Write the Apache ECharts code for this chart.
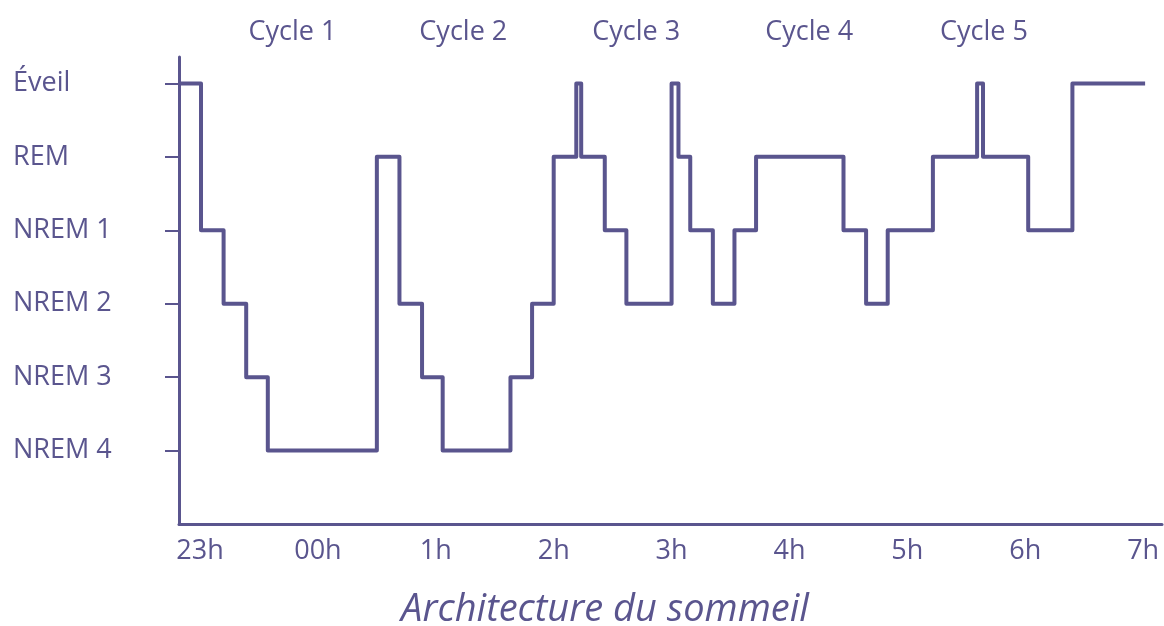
<!DOCTYPE html>
<html>
<head>
<meta charset="utf-8">
<script src="https://cdn.jsdelivr.net/npm/echarts@6.0.0/dist/echarts.min.js"></script>
<style>
html, body { margin: 0; padding: 0; background: #fff; }
#main { width: 1164px; height: 626px; }
</style>
</head>
<body>
<div id="main"></div>
<script>
// stades du sommeil, du plus profond (0) à l'éveil (5)
var stages = ['NREM 4', 'NREM 3', 'NREM 2', 'NREM 1', 'REM', 'Éveil'];

// début de chaque palier, en minutes après 23h00 (dernier point = fin)
var times = [-10.7, 0.5, 12, 23.5, 34.5, 90, 101.5, 113, 123.5, 158, 169, 180, 191.5, 194,
             206, 217, 240, 243.5, 249.5, 261, 272, 283, 327.5, 339, 350, 373, 395.5,
             398.5, 421.5, 444, 481];
var levels = [5, 3, 2, 1, 0, 4, 2, 1, 0, 1, 2, 4, 5, 4, 3, 2, 5, 4, 3, 2, 3, 4, 3, 2, 3,
              4, 5, 4, 3, 5, 5];

var hourTicks = [0, 60, 120, 180, 240, 300, 360, 420, 480];
var hourLabels = ['23h', '00h', '1h', '2h', '3h', '4h', '5h', '6h', '7h'];

var cycleNames = ['Cycle 1', 'Cycle 2', 'Cycle 3', 'Cycle 4', 'Cycle 5'];
var cycleCenters = [47, 134, 222, 310, 399]; // minutes après 23h

var color = '#5a558e';

var myChart = echarts.init(document.getElementById('main'));

var data = [];
for (var i = 0; i < times.length; i++) {
	data.push([times[i], levels[i]]);
}

var xMin = -10.7, xMax = 489.6;
var gridLeft = 179, gridRight = 2;
function xPix(m) {
	return gridLeft + (m - xMin) / (xMax - xMin) * (1164 - gridLeft - gridRight);
}

var graphics = [];
for (var c = 0; c < cycleNames.length; c++) {
	graphics.push({
		type: 'text',
		x: xPix(cycleCenters[c]),
		y: 32,
		style: {
			text: cycleNames[c],
			fill: color,
			font: '27px "Open Sans"',
			align: 'center',
			verticalAlign: 'middle'
		}
	});
}
graphics.push({
	type: 'text',
	x: 605,
	y: 610,
	style: {
		text: 'Architecture du sommeil',
		fill: color,
		font: 'italic 38px "Open Sans"',
		align: 'center',
		verticalAlign: 'middle'
	}
});

var option = {
	animation: false,
	grid: {
		left: gridLeft,
		right: gridRight,
		top: 57,
		bottom: 102,
		containLabel: false
	},
	xAxis: {
		type: 'value',
		min: xMin,
		max: xMax,
		axisLine: { show: true, onZero: false, lineStyle: { color: color, width: 3 } },
		axisTick: { show: false },
		splitLine: { show: false },
		axisLabel: {
			customValues: hourTicks,
			margin: 14,
			color: color,
			fontFamily: 'Open Sans',
			fontSize: 27,
			formatter: function (v) {
				var k = hourTicks.indexOf(v);
				return k >= 0 ? hourLabels[k] : '';
			}
		}
	},
	yAxis: {
		type: 'value',
		min: -1,
		max: 5.36,
		axisLine: { show: true, onZero: false, lineStyle: { color: color, width: 3 } },
		axisTick: {
			show: true,
			customValues: [0, 1, 2, 3, 4, 5],
			length: 14,
			lineStyle: { color: color, width: 2 }
		},
		splitLine: { show: false },
		axisLabel: {
			customValues: [0, 1, 2, 3, 4, 5],
			align: 'left',
			margin: 166,
			color: color,
			fontFamily: 'Open Sans',
			fontSize: 27,
			formatter: function (v) {
				return stages[v];
			}
		}
	},
	graphic: graphics,
	series: [
		{
			type: 'line',
			step: 'end',
			data: data,
			symbol: 'none',
			lineStyle: { color: color, width: 4, join: 'round' }
		}
	]
};
myChart.setOption(option);
</script>
</body>
</html>
